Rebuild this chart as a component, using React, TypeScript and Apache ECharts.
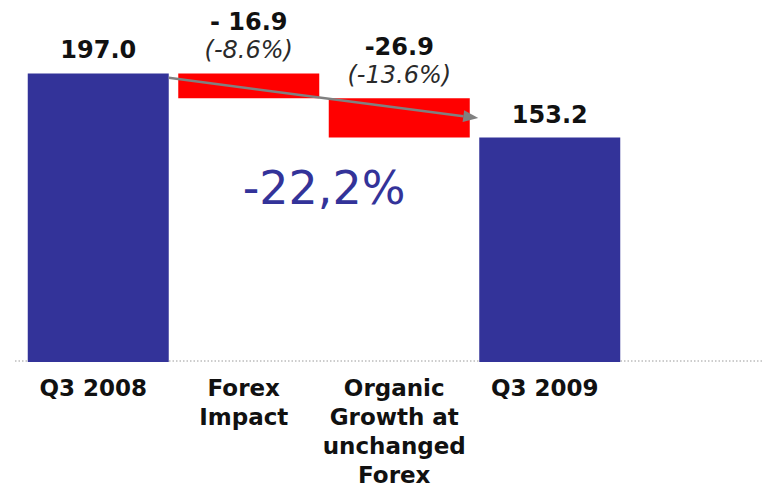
import React, { useEffect, useRef } from "react";
import * as echarts from "echarts";

const categories = ["Q3 2008", "Forex\nImpact", "Organic\nGrowth at\nunchanged\nForex", "Q3 2009"];
const kinds = ["total", "change", "change", "total"];
const baseValues = [0, 180.1, 153.2, 0];
const barValues = [197.0, 16.9, 26.9, 153.2];
const valueLabels = ["197.0", "- 16.9", "-26.9", "153.2"];
const pctLabels = ["", "(-8.6%)", "(-13.6%)", ""];
const totalChangeLabel = "-22,2%";
const arrowFromValue = 194;
const arrowToValue = 166.5;

const BLUE = "#333399";
const RED = "#FF0000";
const FONT = "DejaVu Sans";

export default function App() {
  const ref = useRef<HTMLDivElement>(null);
  useEffect(() => {
    if (!ref.current) return;
    const chart = echarts.init(ref.current, null, { renderer: "svg" });
    const barWidth = 141;
    const option: any = {
      animation: false,
      backgroundColor: "#ffffff",
      grid: { left: 23, right: 139, top: 69, bottom: 131 },
      xAxis: {
        type: "category",
        data: categories,
        axisLine: { show: false },
        axisTick: { show: false },
        axisLabel: {
          interval: 0,
          margin: 11,
          color: "#111",
          fontFamily: FONT,
          fontWeight: "bold",
          fontSize: 23,
          lineHeight: 29,
          padding: [0, 10, 0, 0],
        },
      },
      yAxis: { type: "value", min: 0, max: 200, show: false, splitLine: { show: false } },
      series: [
        {
          type: "bar",
          stack: "w",
          data: baseValues,
          barWidth,
          itemStyle: { color: "transparent" },
          silent: true,
          z: 2,
        },
        {
          type: "bar",
          stack: "w",
          barWidth,
          z: 2,
          data: barValues.map((v, i) => ({
            value: v,
            itemStyle: { color: kinds[i] === "total" ? BLUE : RED },
          })),
          label: {
            show: true,
            position: "top",
            distance: 9,
            formatter: (p: any) => {
              const i = p.dataIndex;
              return pctLabels[i]
                ? `{v|${valueLabels[i]}}\n{p|${pctLabels[i]}}`
                : `{v|${valueLabels[i]}}`;
            },
            rich: {
              v: { fontFamily: FONT, fontWeight: "bold", fontSize: 24, color: "#111", lineHeight: 28, align: "center" },
              p: { fontFamily: FONT, fontStyle: "italic", fontSize: 24, color: "#2a2a2a", lineHeight: 28, align: "center" },
            },
          },
        },
      ],
    };
    chart.setOption(option);

    const p0 = chart.convertToPixel({ gridIndex: 0 }, [0, arrowFromValue]) as number[];
    const p3 = chart.convertToPixel({ gridIndex: 0 }, [3, arrowToValue]) as number[];
    const pm1 = chart.convertToPixel({ gridIndex: 0 }, [1, 119]) as number[];
    const pm2 = chart.convertToPixel({ gridIndex: 0 }, [2, 119]) as number[];
    const x1 = p0[0] + barWidth / 2;
    const y1 = p0[1];
    const x2 = p3[0] - barWidth / 2 - 1;
    const y2 = p3[1];
    const ang = Math.atan2(y2 - y1, x2 - x1);
    const hl = 15, hw = 6;
    const bx = x2 - hl * Math.cos(ang), by = y2 - hl * Math.sin(ang);
    const nx = -Math.sin(ang), ny = Math.cos(ang);

    chart.setOption({
      graphic: [
        {
          id: "baseline",
          type: "line",
          z: 0,
          shape: { x1: 15, y1: 361, x2: 764, y2: 361 },
          style: { stroke: "#9a9a9a", lineWidth: 1, lineDash: [1.5, 2] },
        },
        {
          id: "arrowLine",
          type: "line",
          z: 10,
          shape: { x1, y1, x2: bx, y2: by },
          style: { stroke: "#808080", lineWidth: 2.5 },
        },
        {
          id: "arrowHead",
          type: "polygon",
          z: 10,
          shape: { points: [[x2, y2], [bx + nx * hw, by + ny * hw], [bx - nx * hw, by - ny * hw]] },
          style: { fill: "#808080" },
        },
        {
          id: "totalChange",
          type: "text",
          z: 10,
          x: (pm1[0] + pm2[0]) / 2,
          y: pm1[1],
          style: {
            text: totalChangeLabel,
            fontFamily: FONT,
            fontSize: 46,
            fill: BLUE,
            align: "center",
            verticalAlign: "middle",
          },
        },
      ],
    });

    return () => chart.dispose();
  }, []);
  return <div ref={ref} style={{ position: "fixed", left: 0, top: 0, width: 764, height: 493 }} />;
}
